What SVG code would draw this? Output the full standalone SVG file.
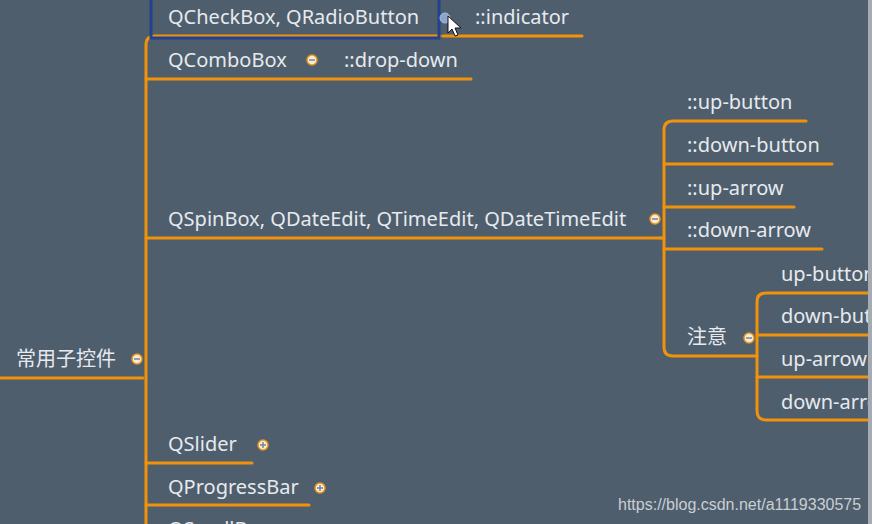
<svg xmlns="http://www.w3.org/2000/svg" width="872" height="524" viewBox="0 0 872 524">
<style>
.t{font-family:"Noto Sans","Noto Sans CJK SC",sans-serif;font-size:20px;fill:#e6eaee}
.c{fill:none;stroke:#f0920c;stroke-width:3;stroke-linecap:round;stroke-linejoin:round}
.k{fill:#f6ead8;stroke:#e8961e;stroke-width:1.5}
.m{stroke:#7a8590;stroke-width:1.5}
</style>
<rect width="872" height="524" fill="#4f5e6d"/>
<g id="connectors">
<path class="c" d="M0 378H143"/>
<path class="c" d="M146 524V45Q146 36 155 36H440"/>
<path class="c" d="M443 36H582"/>
<path class="c" d="M146 79H471"/>
<path class="c" d="M146 238H660"/>
<path class="c" d="M146 463H252"/>
<path class="c" d="M146 505H309"/>
<path class="c" d="M660 238H664"/>
<path class="c" d="M806 121H673Q664 121 664 130V347Q664 356 673 356H757"/>
<path class="c" d="M664 164H832"/>
<path class="c" d="M664 207H794"/>
<path class="c" d="M664 249H822"/>
<path class="c" d="M872 293H766Q757 293 757 302V411Q757 420 766 420H872"/>
<path class="c" d="M757 335H872"/>
<path class="c" d="M757 377H872"/>
</g>
<g id="root"><text class="t" x="16" y="366">常用子控件</text><circle class="k" cx="137" cy="359" r="5"/><path class="m" d="M134 359H140"/></g>
<g id="n-checkbox"><text class="t" x="168" y="24">QCheckBox, QRadioButton</text><rect x="151" y="-4" width="288" height="42" fill="none" stroke="#23418f" stroke-width="3"/><circle cx="445" cy="18" r="5" fill="#8aa6d0" stroke="#a8b8d8" stroke-width="1"/></g>
<g id="n-indicator"><text class="t" x="475" y="24">::indicator</text></g>
<g id="n-combobox"><text class="t" x="168" y="67">QComboBox</text><circle class="k" cx="312" cy="60" r="5"/><path class="m" d="M309 60H315"/></g>
<g id="n-dropdown"><text class="t" x="344" y="67">::drop-down</text></g>
<g id="n-spinbox"><text class="t" x="168" y="226">QSpinBox, QDateEdit, QTimeEdit, QDateTimeEdit</text><circle class="k" cx="655" cy="219" r="5"/><path class="m" d="M652 219H658"/></g>
<g id="n-upbutton"><text class="t" x="687" y="109">::up-button</text></g>
<g id="n-downbutton"><text class="t" x="687" y="152">::down-button</text></g>
<g id="n-uparrow"><text class="t" x="687" y="195">::up-arrow</text></g>
<g id="n-downarrow"><text class="t" x="687" y="237">::down-arrow</text></g>
<g id="n-note"><text class="t" x="687" y="344">注意</text><circle class="k" cx="749" cy="338" r="5"/><path class="m" d="M746 338H752"/></g>
<g id="n-note-upbutton"><text class="t" x="781" y="281">up-button</text></g>
<g id="n-note-downbutton"><text class="t" x="781" y="323">down-button</text></g>
<g id="n-note-uparrow"><text class="t" x="781" y="366">up-arrow</text></g>
<g id="n-note-downarrow"><text class="t" x="781" y="409">down-arrow</text></g>
<g id="n-slider"><text class="t" x="168" y="451">QSlider</text><circle class="k" cx="263" cy="445" r="5"/><path class="m" d="M260 445H266M263 442V448"/></g>
<g id="n-progressbar"><text class="t" x="168" y="494">QProgressBar</text><circle class="k" cx="320" cy="488" r="5"/><path class="m" d="M317 488H323M320 485V491"/></g>
<g id="n-scrollbar"><text class="t" x="168" y="536">QScrollBar</text></g>
<rect x="868" y="0" width="4" height="524" fill="#a4abb2"/>
<path d="M448 16V33L452 29L455 36L458 35L455 28L461 28Z" fill="#ffffff" stroke="#111" stroke-width="1"/>
<text x="618" y="510" style="font-family:'Liberation Sans',Arial,sans-serif;font-size:16px;fill:#c9ced3">https://blog.csdn.net/a1119330575</text>
</svg>
